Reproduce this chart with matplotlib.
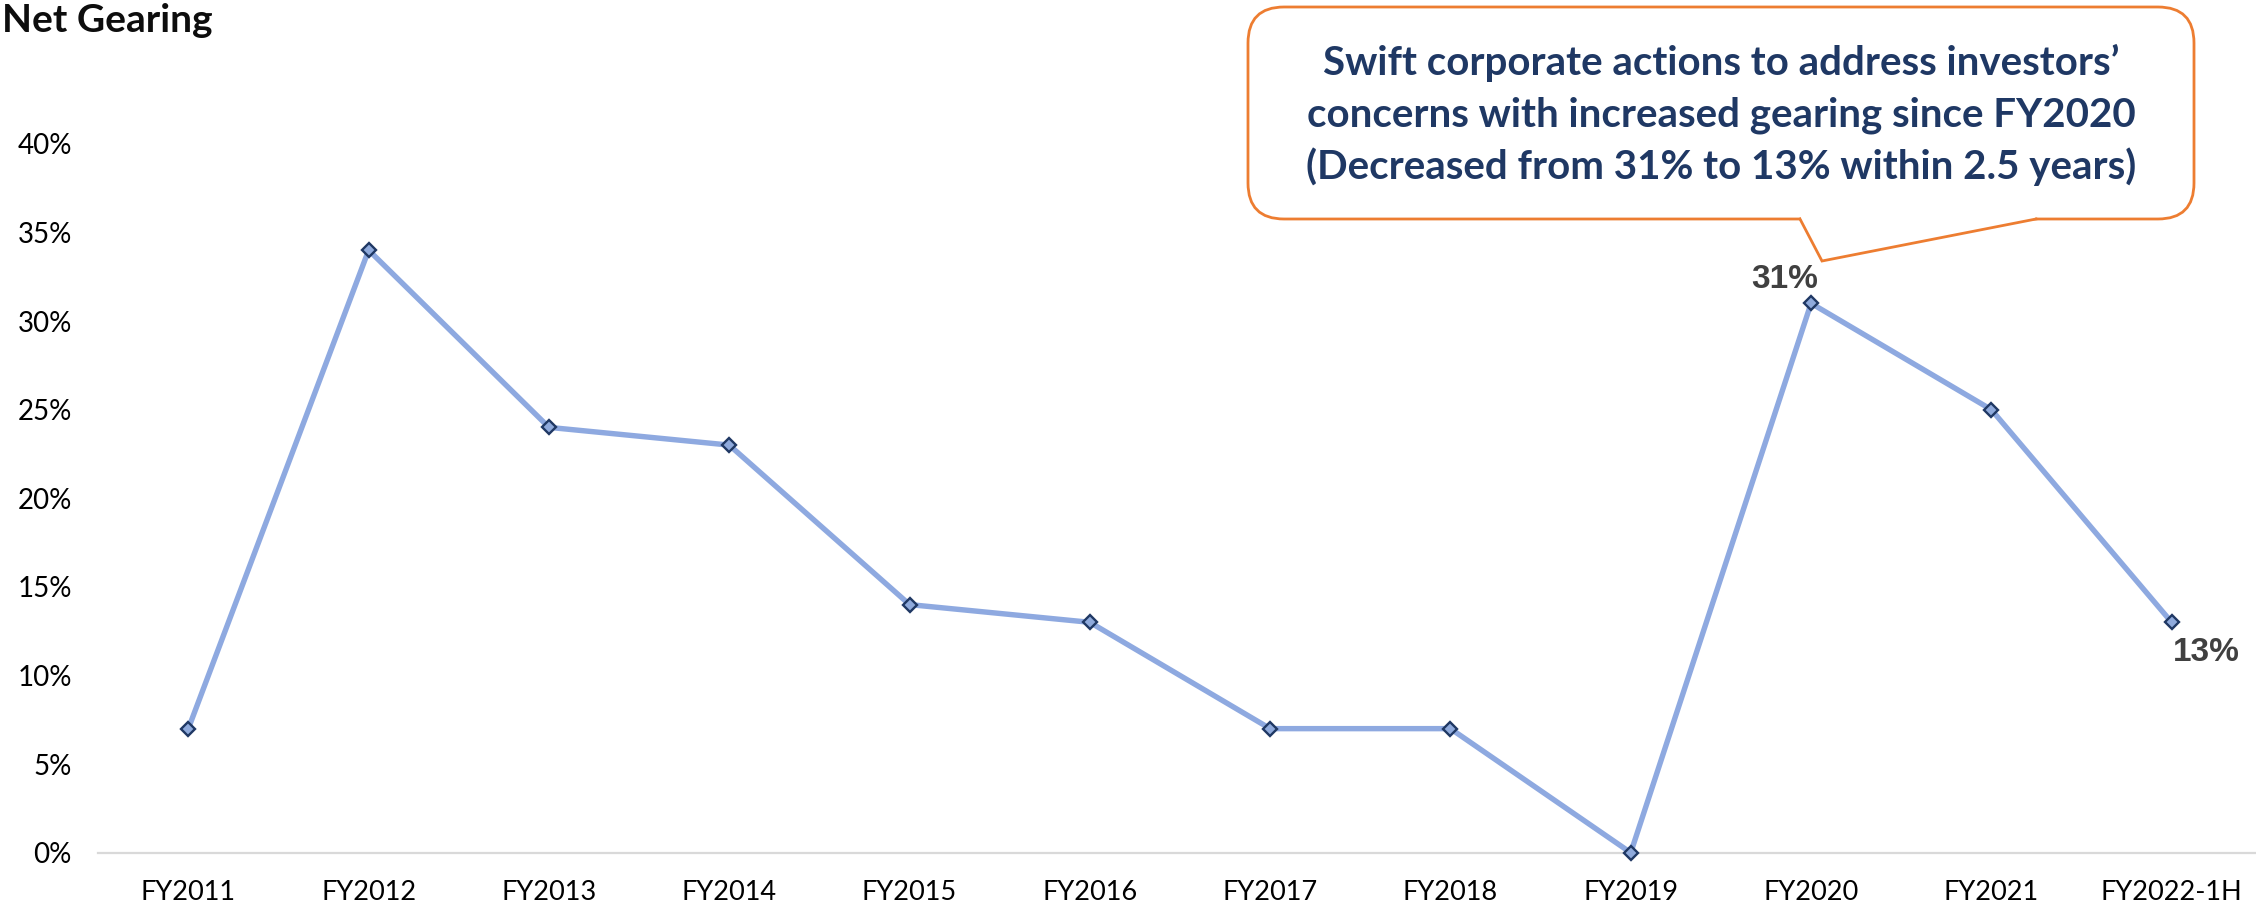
import matplotlib
matplotlib.use("Agg")
import matplotlib.pyplot as plt
from matplotlib.patches import FancyBboxPatch, Polygon
from matplotlib.lines import Line2D
from matplotlib.ticker import FuncFormatter

categories = ["FY2011", "FY2012", "FY2013", "FY2014", "FY2015", "FY2016",
              "FY2017", "FY2018", "FY2019", "FY2020", "FY2021", "FY2022-1H"]
net_gearing = [7, 34, 24, 23, 14, 13, 7, 7, 0, 31, 25, 13]
y_ticks = [0, 5, 10, 15, 20, 25, 30, 35, 40]
title = "Net Gearing"
callout_lines = ["Swift corporate actions to address investors\u2019",
                 "concerns with increased gearing since FY2020",
                 "(Decreased from 31% to 13% within 2.5 years)"]

W, H = 2256, 910
fig = plt.figure(figsize=(W / 100, H / 100), dpi=100)
fig.patch.set_facecolor("white")

def fx(px):
    return px / W

def fy(py):
    return 1 - py / H

left, right = 98.2, 2261.8
bottom, top = 852.7, 143.8
ax = fig.add_axes([fx(left), fy(bottom), fx(right) - fx(left), fy(top) - fy(bottom)])

x = list(range(len(categories)))
ax.plot(x, net_gearing, color="#8EA9E0", lw=3.9, marker="D", markersize=7.2,
        markerfacecolor="#8FAADC", markeredgecolor="#1F3864", markeredgewidth=1.7,
        clip_on=False, zorder=3, solid_joinstyle="round")

ax.set_xlim(-0.5, len(categories) - 0.5)
ax.set_ylim(0, 40)
ax.set_yticks(y_ticks)
ax.yaxis.set_major_formatter(FuncFormatter(lambda v, p: f"{v:.0f}%"))
ax.set_xticks(x)
ax.set_xticklabels(categories)

for s in ["top", "right", "left"]:
    ax.spines[s].set_visible(False)
ax.spines["bottom"].set_color("#D9D9D9")
ax.spines["bottom"].set_linewidth(1.6)
ax.spines["bottom"].set_zorder(1)
ax.tick_params(axis="both", length=0)
ax.tick_params(axis="y", pad=19)
ax.tick_params(axis="x", pad=20)
for lab in ax.get_yticklabels() + ax.get_xticklabels():
    lab.set_fontfamily("Lato")
    lab.set_fontsize(20)
    lab.set_color("#000000")
for lab in ax.get_xticklabels():
    lab.set_fontsize(19.5)

# data labels for FY2020 and last point
i20 = categories.index("FY2020")
ilast = len(categories) - 1
ax.annotate(f"{net_gearing[i20]}%", (x[i20], net_gearing[i20]), xytext=(-19, 17),
            textcoords="offset points", ha="center", va="center",
            fontsize=24, fontweight="bold", color="#404040", family="Liberation Sans")
ax.annotate(f"{net_gearing[ilast]}%", (x[ilast], net_gearing[ilast]), xytext=(25, -22),
            textcoords="offset points", ha="center", va="center",
            fontsize=24, fontweight="bold", color="#404040", family="Liberation Sans")

# title
fig.text(fx(2), fy(21), title, fontsize=28, fontweight="bold", family="Lato",
         color="#0D0D0D", ha="left", va="center")

# callout box
bx0, by0, bx1, by1 = 1248, 7, 2194, 219
r = 36
box = FancyBboxPatch((fx(bx0 + r), fy(by1 - r)), fx(bx1 - bx0 - 2 * r), (by1 - by0 - 2 * r) / H,
                     boxstyle=f"round,pad={r / W},rounding_size={r / W}",
                     transform=fig.transFigure, facecolor="white", edgecolor="#ED7D31",
                     linewidth=2.0, zorder=5, mutation_aspect=W / H)
fig.add_artist(box)
tip = (1822, 261)
b1, b2 = 1800, 2036
cover = Polygon([(fx(b1 + 1), fy(by1 - 4)), (fx(b1 + 1), fy(by1)), (fx(tip[0]), fy(tip[1] - 2)),
                 (fx(b2 - 1), fy(by1)), (fx(b2 - 1), fy(by1 - 4))],
                closed=True, transform=fig.transFigure, facecolor="white",
                edgecolor="none", zorder=6)
fig.add_artist(cover)
fig.add_artist(Line2D([fx(b1), fx(tip[0]), fx(b2)], [fy(by1), fy(tip[1]), fy(by1)],
                      transform=fig.transFigure, color="#ED7D31", lw=2.0, zorder=7,
                      solid_joinstyle="miter"))
line_y = [63, 115, 167]
for txt, ly in zip(callout_lines, line_y):
    fig.text(fx((bx0 + bx1) / 2), fy(ly), txt, ha="center", va="center",
             fontsize=29, fontweight="bold", family="Lato", color="#1F3864", zorder=8)

fig.savefig("out.png", dpi=100, facecolor="white")
